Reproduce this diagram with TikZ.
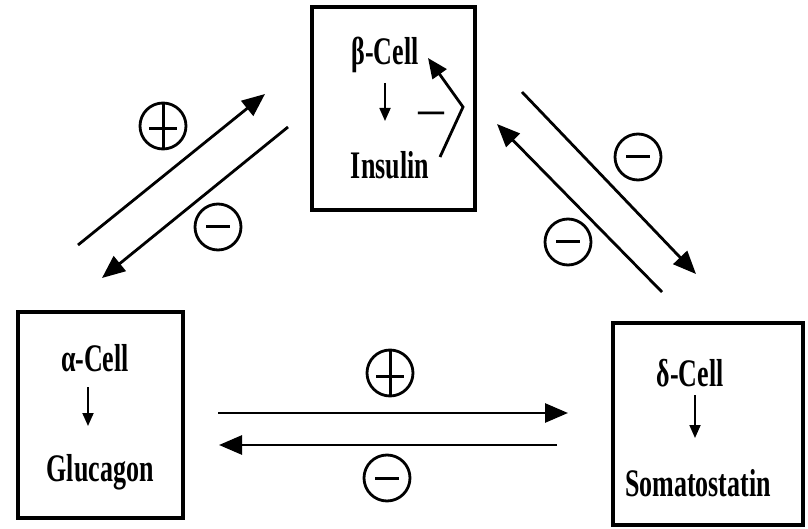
\documentclass[tikz,border=0pt]{standalone}
\usepackage{fontspec}
\setmainfont{Liberation Serif}
\usetikzlibrary{arrows.meta}
\newcommand{\tallt}[1]{\scalebox{1}[1.5]{#1}}
\begin{document}
\begin{tikzpicture}[x=1pt,y=-1pt,
  cellbox/.style={draw,line width=3.5pt,inner sep=0},
  lbl/.style={font=\fontsize{26}{28}\selectfont\bfseries,inner sep=0},
  conn/.style={line width=2.8pt,-{Triangle[length=23pt,width=19pt]}},
  down/.style={line width=1.8pt,-{Triangle[length=13pt,width=11pt]}},
  sign/.style={circle,draw,line width=2.8pt,minimum size=46pt,inner sep=0},
  bar/.style={line width=3pt}]
\useasboundingbox (0,0) rectangle (808,529);
% boxes
\node[cellbox,minimum width=163pt,minimum height=203pt] (beta) at (393.5,108.5) {};
\node[cellbox,minimum width=165pt,minimum height=206pt] (alpha) at (100.5,415) {};
\node[cellbox,minimum width=190pt,minimum height=202pt] (delta) at (708,424) {};
% box texts
\node[lbl] (bc) at (385,55) {\tallt{β-Cell}};
\node[lbl] (ins) at (390,165) {\tallt{Insulin}};
\node[lbl] (bm) at (431,117) {\tallt{—}};
\node[lbl] (ac) at (95,358) {\tallt{α-Cell}};
\node[lbl] (glu) at (100,472) {\tallt{Glucagon}};
\node[lbl] (dc) at (690,373) {\tallt{δ-Cell}};
\node[lbl] (som) at (698,483) {\tallt{Somatostatin}};
% small down arrows
\coordinate (ba1) at (385,83);  \coordinate (ba2) at (385,121);
\coordinate (aa1) at (88,387);  \coordinate (aa2) at (88,426);
\coordinate (da1) at (695,395); \coordinate (da2) at (695,438);
\draw[down] (ba1) -- (ba2);
\draw[down] (aa1) -- (aa2);
\draw[down] (da1) -- (da2);
% feedback arrow in beta box
\coordinate (f1) at (440,157);
\coordinate (f2) at (463,107);
\coordinate (f3) at (428,58);
\draw[line width=2.8pt,-{Triangle[length=20pt,width=17pt]}] (f1) -- (f2) -- (f3);
% arrow end points
\coordinate (l1s) at (78,245);  \coordinate (l1e) at (265,94);
\coordinate (l2s) at (288,127); \coordinate (l2e) at (102,278);
\coordinate (r1s) at (522,92);  \coordinate (r1e) at (696,274);
\coordinate (r2s) at (662,292); \coordinate (r2e) at (497,124);
\coordinate (h1s) at (218,413); \coordinate (h1e) at (568,413);
\coordinate (h2s) at (557,445); \coordinate (h2e) at (219,445);
\draw[conn] (l1s) -- (l1e);
\draw[conn] (l2s) -- (l2e);
\draw[conn] (r1s) -- (r1e);
\draw[conn] (r2s) -- (r2e);
\draw[conn] (h1s) -- (h1e);
\draw[conn] (h2s) -- (h2e);
% sign circles
\node[sign] (p1) at (163,126) {};
\node[sign] (m1) at (218,227) {};
\node[sign] (m2) at (638,157) {};
\node[sign] (m3) at (568,242) {};
\node[sign] (p2) at (390,373) {};
\node[sign] (m4) at (387,478) {};
% plus signs
\draw[bar] ([xshift=-14pt,yshift=-3pt]p1.center) -- ([xshift=14pt,yshift=-3pt]p1.center);
\draw[bar] (p1.north) -- (p1.south);
\draw[bar] ([xshift=-14pt,yshift=-3pt]p2.center) -- ([xshift=14pt,yshift=-3pt]p2.center);
\draw[bar] (p2.north) -- (p2.south);
% minus signs
\draw[bar] ([xshift=-12pt]m1.center) -- ([xshift=12pt]m1.center);
\draw[bar] ([xshift=-12pt]m2.center) -- ([xshift=12pt]m2.center);
\draw[bar] ([xshift=-12pt]m3.center) -- ([xshift=12pt]m3.center);
\draw[bar] ([xshift=-12pt]m4.center) -- ([xshift=12pt]m4.center);
\end{tikzpicture}
\end{document}
